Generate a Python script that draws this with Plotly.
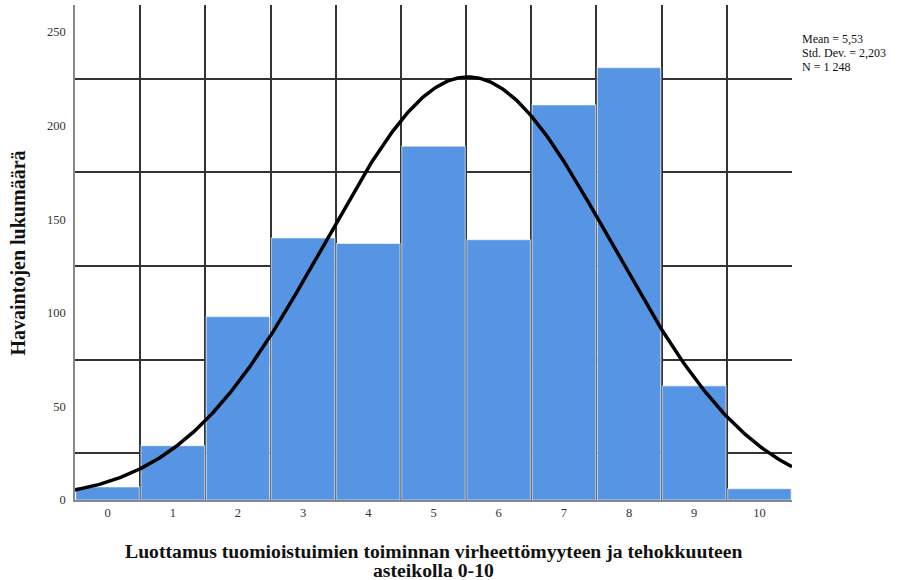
import numpy as np
import plotly.graph_objects as go

categories = [0, 1, 2, 3, 4, 5, 6, 7, 8, 9, 10]
counts = [7, 29, 98, 140, 137, 189, 139, 211, 231, 61, 6]
mean_val = 5.53
std_val = 2.203
n_val = 1248
y_ticks = [0, 50, 100, 150, 200, 250]
y_grid = [25, 75, 125, 175, 225]
x_edges = [c - 0.5 for c in categories] + [categories[-1] + 0.5]

xs = np.linspace(x_edges[0], x_edges[-1], 400)
ys = n_val * 1.0 / (std_val * np.sqrt(2 * np.pi)) * np.exp(-0.5 * ((xs - mean_val) / std_val) ** 2)

serif = "Liberation Serif, Times New Roman, serif"

stats_lines = [
    "Mean = " + f"{mean_val:.2f}".replace(".", ","),
    "Std. Dev. = " + f"{std_val:.3f}".replace(".", ","),
    "N = " + f"{n_val:,}".replace(",", " "),
]

fig = go.Figure()
fig.add_trace(go.Bar(
    x=categories, y=counts,
    marker=dict(color="#5595e3", line=dict(color="rgba(255,255,255,0.55)", width=1.2)),
    hoverinfo="x+y",
))
fig.add_trace(go.Scatter(
    x=xs, y=ys, mode="lines",
    line=dict(color="black", width=3.5),
    hoverinfo="skip",
))

annotations = []
for i, line in enumerate(stats_lines):
    annotations.append(dict(
        xref="paper", yref="paper", x=1.0, y=1.0,
        xanchor="left", yanchor="middle", xshift=8, yshift=-(34 + 14 * i),
        align="left", showarrow=False, text=line,
        font=dict(family=serif, size=12, color="#111"),
    ))
x_title_lines = ["Luottamus tuomioistuimien toiminnan virheettömyyteen ja tehokkuuteen",
                 "asteikolla 0-10"]
for i, line in enumerate(x_title_lines):
    annotations.append(dict(
        xref="paper", yref="paper", x=0.5, y=0.0,
        xanchor="center", yanchor="middle", yshift=-(51 + 18.5 * i),
        showarrow=False, text=f"<b>{line}</b>",
        font=dict(family=serif, size=19.7, color="#111"),
    ))
annotations.append(dict(
    xref="paper", yref="paper", x=0.0, y=0.5,
    xanchor="center", yanchor="middle", xshift=-57, yshift=-1,
    textangle=-90, showarrow=False, text="<b>Havaintojen lukumäärä</b>",
    font=dict(family=serif, size=20, color="#111"),
))

fig.update_layout(
    width=903, height=580,
    margin=dict(l=75, r=111, t=5, b=80, autoexpand=False),
    paper_bgcolor="white", plot_bgcolor="white",
    showlegend=False,
    bargap=0.025,
    font=dict(family=serif, color="#222"),
    annotations=annotations,
)

fig.update_xaxes(
    range=[x_edges[0], x_edges[-1]], automargin=False,
    tickmode="array", tickvals=categories, ticktext=[str(c) for c in categories],
    showgrid=False, zeroline=False,
    showline=True, linecolor="#888", linewidth=1.5,
    ticks="", tickfont=dict(family=serif, size=12.5, color="#333"),
    minor=dict(tickmode="array", tickvals=x_edges, showgrid=True,
               gridcolor="#333", gridwidth=1.5, ticks=""),
)
fig.update_yaxes(
    range=[0, 264.4], automargin=False,
    tickmode="array", tickvals=y_ticks,
    showgrid=False, zeroline=False,
    showline=True, linecolor="#888", linewidth=1.5,
    ticks="", ticklabelstandoff=5, tickfont=dict(family=serif, size=12.5, color="#333"),
    minor=dict(tickmode="array", tickvals=y_grid, showgrid=True,
               gridcolor="#333", gridwidth=1.5, ticks=""),
)

fig.write_html("out.html", config={"displayModeBar": False},
               post_script="document.body.style.margin='0';document.body.style.overflow='hidden';")
